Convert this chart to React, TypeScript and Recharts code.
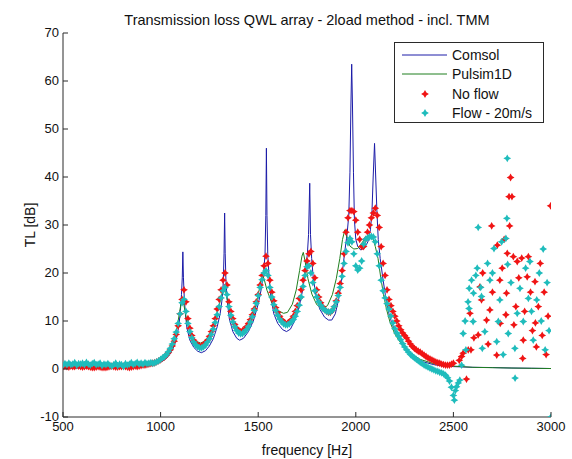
import React from 'react';
import { ComposedChart, Line, Scatter, XAxis, YAxis, Legend } from 'recharts';

const xTicks = [500, 1000, 1500, 2000, 2500, 3000];
const yTicks = [-10, 0, 10, 20, 30, 40, 50, 60, 70];

const seriesNames = ['Comsol', 'Pulsim1D', 'No flow', 'Flow - 20m/s'];
const seriesColors = ['#1c1ca8', '#1f7f1f', '#f01414', '#1fbcbc'];

const comsolFreq = [500, 600, 700, 800, 850, 900, 950, 1000, 1030, 1050, 1070, 1085, 1095, 1102, 1107, 1111, 1114, 1117, 1121, 1127, 1135, 1150, 1170, 1190, 1209, 1230, 1250, 1270, 1290, 1305, 1315, 1321, 1325, 1328, 1331, 1335, 1342, 1352, 1370, 1390, 1405, 1425, 1450, 1475, 1500, 1515, 1528, 1535, 1539, 1542, 1545, 1549, 1556, 1565, 1580, 1600, 1625, 1645, 1665, 1690, 1710, 1728, 1742, 1752, 1758, 1764, 1768, 1774, 1782, 1795, 1815, 1840, 1860, 1877, 1895, 1912, 1928, 1942, 1955, 1964, 1970, 1975, 1979, 1983, 1988, 1993, 2000, 2010, 2025, 2045, 2062, 2075, 2083, 2089, 2096, 2102, 2108, 2115, 2125, 2140, 2155, 2170, 2185, 2200, 2230, 2260, 2300, 2345, 2400, 2450, 2500, 2600, 2700, 2800, 2900, 3000];
const comsolTL = [0.2, 0.2, 0.3, 0.35, 0.4, 0.55, 0.8, 1.4, 2.2, 3.2, 4.8, 7, 9.5, 12.5, 15.5, 19, 24.4, 19, 15, 11.5, 8.5, 6, 4.5, 3.7, 3.4, 3.8, 4.8, 6.3, 8.8, 11.5, 14.5, 18, 24, 32.5, 24, 18, 14, 10.5, 7.8, 6.4, 6, 6.4, 7.8, 10, 13.5, 16.5, 20, 24, 32, 46, 32, 24, 19, 15, 11.5, 9.5, 8.2, 7.8, 8.3, 10.3, 13, 16.5, 20.5, 24, 28, 38.7, 28, 23, 19, 15.5, 12.5, 10.8, 10.2, 10.2, 11.5, 14.5, 19, 24, 28, 32, 41, 55, 63.5, 55, 41, 31, 27, 25.5, 24.8, 25.2, 26.5, 29, 33, 40, 47, 40, 33, 27, 23, 18.5, 14.5, 11.5, 9.5, 8, 5.8, 4.3, 2.6, 1.5, 0.9, 0.6, 0.5, 0.35, 0.3, 0.2, 0.15, 0.1];

const pulsimFreq = [500, 600, 700, 800, 900, 950, 1000, 1030, 1050, 1070, 1085, 1097, 1106, 1112, 1120, 1135, 1155, 1180, 1205, 1230, 1255, 1280, 1300, 1315, 1324, 1333, 1350, 1375, 1400, 1420, 1445, 1470, 1490, 1505, 1516, 1522, 1530, 1545, 1570, 1600, 1630, 1650, 1675, 1695, 1712, 1724, 1731, 1740, 1755, 1775, 1800, 1830, 1855, 1880, 1900, 1918, 1932, 1944, 1955, 1970, 1990, 2010, 2030, 2050, 2070, 2085, 2100, 2114, 2128, 2142, 2157, 2175, 2200, 2240, 2280, 2330, 2400, 2500, 2600, 2800, 3000];
const pulsimTL = [0.3, 0.3, 0.35, 0.45, 0.7, 1.0, 1.7, 2.8, 4.0, 6.2, 8.8, 11.8, 14, 14.6, 13.2, 9.8, 7.2, 5.8, 5.4, 5.9, 7.5, 10.2, 13.2, 15.8, 17, 16.2, 12.8, 9.6, 8.1, 7.8, 8.6, 10.8, 13.6, 16.5, 19, 19.6, 18.8, 16.4, 13.8, 12.2, 11.6, 11.8, 13.5, 16.5, 20.5, 23.5, 24.3, 22.5, 18.8, 15.6, 13.4, 12.6, 13.2, 15.5, 18.8, 23, 27, 29, 27.5, 25.6, 25, 25.1, 26.2, 27.3, 28, 27.5, 25.5, 23, 19, 15.5, 12.5, 9.8, 7.3, 4.8, 3.3, 2, 1.1, 0.6, 0.35, 0.2, 0.1];

// measured frequency grid of the marker series (500 ... 2500 Hz, 10 Hz apart)
const bandFreq = Array.from({ length: 201 }, (_, i) => 500 + i * 10);

const noFlowBandTL = [
  0.5, 0.6, 0.5, 0.4, 0.6, 0.5, 0.5, 0.7, 0.6, 0.5, 0.4, 0.5, 0.6, 0.5, 0.4, 0.3, 0.3, 0.4, 0.5, 0.4,
  0.3, 0.3, 0.3, 0.4, 0.5, 0.6, 0.5, 0.4, 0.4, 0.5, 0.5, 0.6, 0.5, 0.4, 0.3, 0.4, 0.5, 0.6, 0.5, 0.6,
  0.7, 0.8, 0.8, 0.9, 1.0, 1.1,
  1.2, 1.3, 1.5, 1.7, 1.9, 2.2, 2.5, 2.9, 3.4, 4.0, 4.8, 5.8, 7.2, 9.0, 11.5, 14.5, 16.5, 14.0, 10.5, 8.5,
  7.0, 6.0, 5.3, 5.0, 4.8, 4.8, 5.0, 5.5, 6.0, 6.8, 7.8, 9.0, 10.5, 12.5, 14.5, 16.5, 18.5, 20.0, 17.5, 14.0,
  12.0, 10.5, 9.3, 8.5, 8.0, 7.8, 8.0, 8.3, 8.8, 9.5, 10.3, 11.3, 12.5, 14.0, 15.5, 17.5, 19.5, 21.5, 23.5, 22.0,
  18.5, 16.0, 14.2, 12.8, 11.8, 11.0, 10.3, 9.8, 9.5, 9.5, 9.8, 10.3, 11.0, 12.0, 13.2, 14.7, 16.5, 18.5, 20.5, 22.5,
  24.0, 24.5, 22.0, 19.0, 16.5, 15.0, 13.8, 13.0, 12.4, 12.0, 11.8, 11.8, 12.2, 13.0, 14.2, 15.8, 17.8, 20.5, 24.0, 28.5,
  31.5, 33.0, 33.0, 32.8, 31.0, 28.5, 27.0, 25.5, 25.5, 27.0, 28.5, 30.0, 31.5, 32.5, 33.5, 32.0, 29.5, 25.5, 22.0, 19.5,
  16.5, 14.5, 13.2, 12.0, 11.0, 10.0, 9.0, 8.2, 7.5, 7.0, 6.5, 5.8, 5.2, 4.7, 4.3, 4.0, 3.7, 3.5, 3.2, 2.9,
  2.6, 2.3, 2.1, 1.9, 1.7, 1.5, 1.3, 1.2, 1.0, 0.9, 0.8, 0.8, 0.8, 1.0, 1.2
];

const flowBandTL = [
  0.8, 1.1, 0.9, 1.2, 0.9, 1.0, 1.3, 0.8, 1.1, 1.0, 1.2, 0.9, 1.4, 1.0, 0.8, 1.1, 1.3, 0.9, 1.0, 1.2,
  0.7, 1.0, 0.9, 1.1, 0.8, 0.6, 0.9, 1.2, 0.7, 1.0, 0.9, 0.5, 1.1, 0.8, 1.0, 1.3, 0.9, 1.1, 1.4, 1.0,
  1.2, 1.0, 1.3, 1.1, 1.2, 1.3,
  1.2, 1.3, 1.5, 1.7, 2.0, 2.3, 2.6, 3.0, 3.6, 4.3, 5.2, 6.3, 7.7, 9.5, 11.5, 13.8, 14.5, 12.0, 9.5, 7.8,
  6.5, 5.6, 5.0, 4.6, 4.4, 4.4, 4.6, 5.0, 5.6, 6.3, 7.2, 8.3, 9.7, 11.3, 13.0, 14.8, 16.3, 17.0, 15.5, 13.0,
  11.2, 9.8, 8.8, 8.0, 7.5, 7.3, 7.4, 7.7, 8.2, 8.9, 9.8, 10.9, 12.2, 13.7, 15.3, 17.0, 18.6, 20.0, 20.5, 19.5,
  17.0, 15.0, 13.4, 12.2, 11.2, 10.4, 9.8, 9.4, 9.2, 9.2, 9.4, 9.8, 10.3, 11.0, 12.0, 13.3, 15.0, 17.2, 19.5, 21.3,
  21.5, 20.0, 18.0, 16.3, 15.0, 14.0, 13.3, 12.7, 12.3, 12.0, 11.9, 11.9, 12.2, 13.0, 14.0, 15.3, 17.0, 19.3, 22.0, 24.5,
  26.3, 27.2, 26.5, 24.0, 21.5, 20.6, 21.0, 22.5, 26.0, 27.0, 27.3, 27.5, 27.6, 27.5, 26.5, 24.0, 21.5, 18.5, 16.3, 14.8,
  13.6, 12.5, 11.0, 9.6, 8.4, 7.5, 6.8, 6.1, 5.3, 4.6, 4.0, 3.5, 3.0, 2.7, 2.3, 2.0, 1.7, 1.4, 1.1, 0.8,
  0.6, 0.4, 0.2, 0.0, -0.2, -0.4, -0.5, -0.7, -0.8, -1.0, -1.3, -1.8, -2.5, -3.8, -5.5
];

const noFlowScatterFreq = [2530, 2542, 2550, 2567, 2576, 2585, 2590, 2605, 2627, 2636, 2644, 2650, 2670, 2678, 2687, 2696, 2700, 2722, 2725, 2738, 2740, 2750, 2760, 2769, 2772, 2776, 2785, 2788, 2793, 2800, 2807, 2810, 2820, 2827, 2835, 2850, 2855, 2858, 2865, 2878, 2884, 2895, 2905, 2918, 2920, 2925, 2935, 2945, 2955, 2965, 2975, 2985, 2998];
const noFlowScatterTL = [1.8, 2.6, 3.3, -2.1, 4.0, 11.6, 4.0, 6.5, 7.1, 17.1, 14.4, 20.0, 10.2, 5.2, 12.3, 29.8, 16.0, 2.9, 25.8, 18.5, 9.5, 21.0, 27.0, 11.3, 15.8, 24.1, 35.9, 29.8, 39.9, 35.9, 23.4, 9.2, 13.0, 22.4, 19.0, 23.1, 2.2, 6.0, 12.0, 19.2, 23.4, 16.0, 8.0, 18.2, 9.6, 4.6, 13.0, 22.0, 7.0, 16.0, 3.0, 11.0, 34.0];

const flowScatterFreq = [2505, 2510, 2516, 2525, 2533, 2542, 2550, 2560, 2564, 2575, 2580, 2581, 2593, 2601, 2603, 2615, 2622, 2627, 2640, 2644, 2648, 2661, 2675, 2687, 2700, 2708, 2722, 2730, 2738, 2747, 2755, 2769, 2774, 2776, 2778, 2781, 2795, 2815, 2816, 2827, 2841, 2858, 2870, 2884, 2892, 2900, 2909, 2927, 2940, 2950, 2960, 2970, 2980, 2990, 3000];
const flowScatterTL = [-6.5, -4.5, -3.7, -2.9, -2.3, 0.8, 7.4, 10.0, 4.0, 14.0, 12.6, 16.8, 18.5, 9.9, 15.8, 19.5, 21.0, 29.5, 17.0, 15.1, 4.3, 7.8, 22.0, 18.5, 20.0, 25.1, 5.7, 9.9, 14.4, 26.5, 3.0, 27.2, 31.4, 43.9, 21.8, 7.4, 18.0, 4.3, -1.9, 11.6, 16.8, 9.9, 21.0, 14.7, 22.4, 12.0, 6.0, 14.4, 20.0, 10.0, 25.0, 4.0, 18.0, 8.0, -10.0];

const toPoints = (fs: number[], vs: number[]) => fs.map((f, i) => ({ f, v: vs[i] }));

const comsolData = toPoints(comsolFreq, comsolTL);
const pulsimData = toPoints(pulsimFreq, pulsimTL);
const noFlowData = toPoints(bandFreq, noFlowBandTL).concat(toPoints(noFlowScatterFreq, noFlowScatterTL));
const flowData = toPoints(bandFreq, flowBandTL).concat(toPoints(flowScatterFreq, flowScatterTL));

const FONT = '"Liberation Sans", Arial, sans-serif';
const AX = '#2a2a2a';

const starPath = (cx: number, cy: number, r: number) => {
  const k = r * 0.36;
  return `M${cx},${cy - r}L${cx + k},${cy - k}L${cx + r},${cy}L${cx + k},${cy + k}L${cx},${cy + r}L${cx - k},${cy + k}L${cx - r},${cy}L${cx - k},${cy - k}Z`;
};

const makeMarker = (color: string) => (props: any) => {
  const { cx, cy } = props;
  if (cx == null || cy == null) return <g />;
  return <path d={starPath(cx, cy, 3.9)} fill={color} />;
};

const BottomTick = (props: any) => {
  const { x, y, payload } = props;
  return (
    <g>
      <line x1={x} x2={x} y1={y} y2={y - 5} stroke={AX} />
      <text x={x} y={y + 14} textAnchor="middle" fontSize={13} fontFamily={FONT} fill="#111">{payload.value}</text>
    </g>
  );
};
const TopTick = (props: any) => {
  const { x, y } = props;
  return <line x1={x} x2={x} y1={y} y2={y + 5} stroke={AX} />;
};
const LeftTick = (props: any) => {
  const { x, y, payload } = props;
  return (
    <g>
      <line x1={x} x2={x + 5} y1={y} y2={y} stroke={AX} />
      <text x={x - 4} y={y + 4} textAnchor="end" fontSize={13} fontFamily={FONT} fill="#111">{payload.value}</text>
    </g>
  );
};
const RightTick = (props: any) => {
  const { x, y } = props;
  return <line x1={x} x2={x - 5} y1={y} y2={y} stroke={AX} />;
};

const LegendBox = () => (
  <div style={{ border: `1px solid ${AX}`, background: '#fff', width: 150, height: 81, boxSizing: 'border-box', fontFamily: FONT, fontSize: 14, color: '#111', paddingTop: 2 }}>
    {seriesNames.map((name, i) => (
      <div key={name} style={{ display: 'flex', alignItems: 'center', height: 19.5 }}>
        <svg width={51} height={12} style={{ marginLeft: 6, flex: 'none' }}>
          {i < 2 ? (
            <line x1={1} x2={46} y1={6} y2={6} stroke={seriesColors[i]} strokeWidth={1} />
          ) : (
            <path d={starPath(24, 6, 3.9)} fill={seriesColors[i]} />
          )}
        </svg>
        <span style={{ whiteSpace: 'nowrap' }}>{name}</span>
      </div>
    ))}
  </div>
);

export default function App() {
  return (
    <div style={{ position: 'relative', width: 572, height: 459, background: '#fff', fontFamily: FONT }}>
      <style>{'body{margin:0;background:#fff}'}</style>
      <ComposedChart width={572} height={459} margin={{ top: 33, right: 21, bottom: 12, left: 8 }}>
        <XAxis xAxisId={0} type="number" dataKey="f" domain={[500, 3000]} ticks={xTicks} interval={0}
          allowDataOverflow tickSize={0} tickMargin={0} tickLine={false} axisLine={{ stroke: AX }} tick={<BottomTick />} height={30} />
        <XAxis xAxisId="top" orientation="top" type="number" dataKey="f" domain={[500, 3000]} ticks={xTicks} interval={0}
          allowDataOverflow tickSize={0} tickMargin={0} tickLine={false} axisLine={{ stroke: AX }} tick={<TopTick />} height={0} />
        <YAxis yAxisId={0} type="number" dataKey="v" domain={[-10, 70]} ticks={yTicks} interval={0}
          allowDataOverflow tickSize={0} tickMargin={0} tickLine={false} axisLine={{ stroke: AX }} tick={<LeftTick />} width={55} />
        <YAxis yAxisId="right" orientation="right" type="number" domain={[-10, 70]} ticks={yTicks} interval={0}
          allowDataOverflow tickSize={0} tickMargin={0} tickLine={false} axisLine={{ stroke: AX }} tick={<RightTick />} width={0} />
        <Line data={comsolData} dataKey="v" name={seriesNames[0]} type="linear" stroke={seriesColors[0]} strokeWidth={1} dot={false} isAnimationActive={false} />
        <Line data={pulsimData} dataKey="v" name={seriesNames[1]} type="linear" stroke={seriesColors[1]} strokeWidth={1} dot={false} isAnimationActive={false} />
        <Scatter data={noFlowData} dataKey="v" name={seriesNames[2]} fill={seriesColors[2]} shape={makeMarker(seriesColors[2])} isAnimationActive={false} />
        <Scatter data={flowData} dataKey="v" name={seriesNames[3]} fill={seriesColors[3]} shape={makeMarker(seriesColors[3])} isAnimationActive={false} />
        <Legend layout="vertical" align="center" verticalAlign="middle" content={<LegendBox />}
          wrapperStyle={{ position: 'absolute', left: 394, top: 42, width: 150, height: 81, margin: 0 }} />
      </ComposedChart>
      <div style={{ position: 'absolute', left: 63, width: 488, top: 12, textAlign: 'center', fontSize: 14.5, color: '#111', lineHeight: '17px', whiteSpace: 'nowrap' }}>
        Transmission loss QWL array - 2load method - incl. TMM
      </div>
      <div style={{ position: 'absolute', left: 63, width: 488, top: 442, textAlign: 'center', fontSize: 14, color: '#111', lineHeight: '16px' }}>
        frequency [Hz]
      </div>
      <div style={{ position: 'absolute', left: 30, top: 225, transform: 'translate(-50%, -50%) rotate(-90deg)', whiteSpace: 'nowrap', fontSize: 14, color: '#111', lineHeight: '16px' }}>
        TL [dB]
      </div>
    </div>
  );
}
